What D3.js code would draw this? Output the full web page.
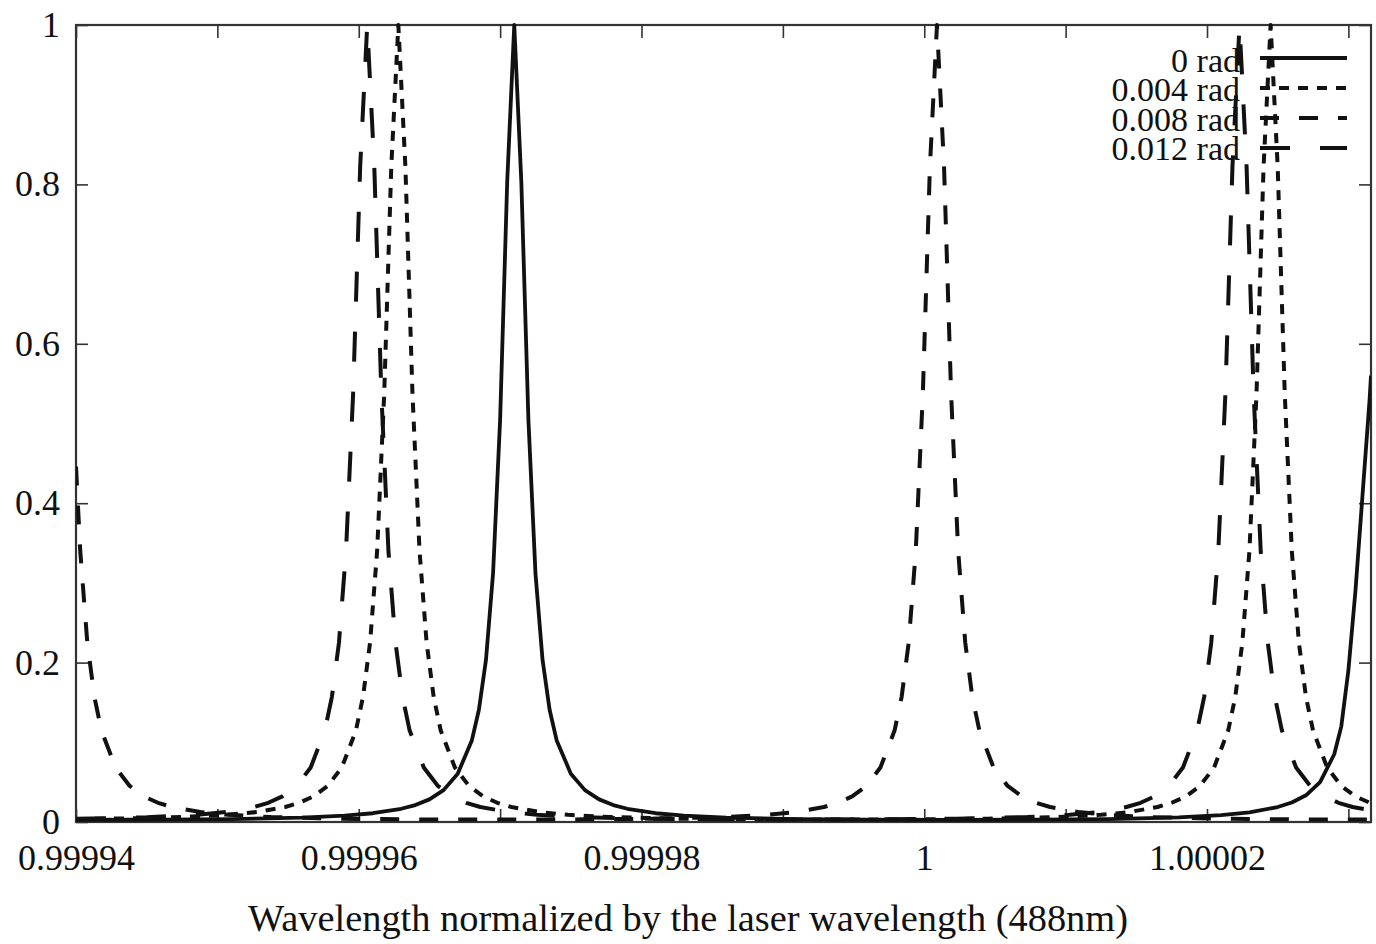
<!DOCTYPE html>
<html><head><meta charset="utf-8">
<script src="https://cdn.jsdelivr.net/npm/d3@7"></script>
<style>html,body{margin:0;padding:0;background:#fff;} svg{display:block;background:#fff;}</style>
</head><body>
<svg id="chart" width="1376" height="944"></svg>
<script>
// ---- data ----
const xTickValues = [0.99994, 0.99995, 0.99996, 0.99997, 0.99998, 0.99999, 1, 1.00001, 1.00002, 1.00003];
const xTickLabels = ["0.99994", "", "0.99996", "", "0.99998", "", "1", "", "1.00002", ""];
const yTickValues = [0, 0.2, 0.4, 0.6, 0.8, 1];
const yTickLabels = ["0", "0.2", "0.4", "0.6", "0.8", "1"];
const seriesNames = ["0 rad", "0.004 rad", "0.008 rad", "0.012 rad"];
const xTitle = "Wavelength normalized by the laser wavelength (488nm)";

// [normalized wavelength, transmission]
const rad0 = [
[0.99994,0.0027],[0.999943,0.0028],[0.999946,0.0029],[0.999951,0.0036],[0.999956,0.0055],
[0.999959,0.0080],[0.999961,0.0110],[0.999963,0.0166],[0.999964,0.0212],[0.999965,0.0284],
[0.999966,0.0400],[0.999967,0.0606],[0.999968,0.1024],[0.9999685,0.1408],[0.999969,0.2035],
[0.9999695,0.312],[0.99997,0.505],[0.9999705,0.803],[0.999971,1],[0.9999715,0.803],
[0.999972,0.505],[0.9999725,0.312],[0.999973,0.2035],[0.9999735,0.1408],[0.999974,0.1024],
[0.999975,0.0606],[0.999976,0.0400],[0.999977,0.0284],[0.999978,0.0212],[0.999979,0.0166],
[0.999981,0.0110],[0.999983,0.0080],[0.999986,0.0055],[0.999991,0.0036],[0.999996,0.0029],
[1.000002,0.0027],[1.000008,0.0029],[1.000013,0.0037],[1.000018,0.0058],[1.000021,0.0087],
[1.000023,0.0121],[1.000025,0.0188],[1.000026,0.0245],[1.000027,0.0335],[1.000028,0.050],
[1.000029,0.085],[1.0000295,0.12],[1.00003,0.19],[1.0000305,0.29],[1.000031,0.41],
[1.0000315,0.53],[1.0000316,0.56]
];
const rad004 = [
[0.99994,0.0036],[0.999945,0.0048],[0.99995,0.0081],[0.9999528,0.0125],[0.9999548,0.0188],
[0.9999558,0.0241],[0.9999568,0.0321],[0.9999578,0.0452],[0.9999588,0.0684],[0.9999598,0.1147],
[0.9999603,0.157],[0.9999608,0.225],[0.9999613,0.340],[0.9999618,0.537],[0.9999623,0.822],
[0.9999628,1],[0.9999633,0.822],[0.9999638,0.537],[0.9999643,0.340],[0.9999648,0.225],
[0.9999653,0.157],[0.9999658,0.1147],[0.9999668,0.0684],[0.9999678,0.0452],[0.9999688,0.0321],
[0.9999698,0.0241],[0.9999708,0.0188],[0.9999728,0.0125],[0.9999748,0.0090],[0.9999778,0.0062],
[0.9999828,0.0041],[0.9999878,0.0033],[0.9999936,0.0030],[0.9999995,0.0033],[1.0000045,0.0041],
[1.0000095,0.0062],[1.0000125,0.0090],[1.0000145,0.0125],[1.0000165,0.0188],[1.0000175,0.0241],
[1.0000185,0.0321],[1.0000195,0.0452],[1.0000205,0.0684],[1.0000215,0.1147],[1.000022,0.157],
[1.0000225,0.225],[1.000023,0.340],[1.0000235,0.537],[1.000024,0.822],[1.0000245,1],
[1.000025,0.822],[1.0000255,0.537],[1.000026,0.340],[1.0000265,0.225],[1.000027,0.157],
[1.0000275,0.1147],[1.0000285,0.0684],[1.0000295,0.0452],[1.0000305,0.0321],[1.0000316,0.0235]
];
const rad008 = [
[0.99994,0.446],[0.9999403,0.340],[0.9999408,0.225],[0.9999413,0.157],[0.9999418,0.1147],
[0.9999428,0.0684],[0.9999438,0.0452],[0.9999448,0.0321],[0.9999458,0.0241],[0.9999468,0.0188],
[0.9999488,0.0125],[0.9999508,0.0090],[0.9999538,0.0062],[0.9999588,0.0041],[0.9999638,0.0033],
[0.9999699,0.0030],[0.9999759,0.0033],[0.9999809,0.0041],[0.9999859,0.0062],[0.9999889,0.0090],
[0.9999909,0.0125],[0.9999929,0.0188],[0.9999939,0.0241],[0.9999949,0.0321],[0.9999959,0.0452],
[0.9999969,0.0684],[0.9999979,0.1147],[0.9999984,0.157],[0.9999989,0.225],[0.9999994,0.340],
[0.9999999,0.537],[1.0000004,0.822],[1.0000009,1],[1.0000014,0.822],[1.0000019,0.537],
[1.0000024,0.340],[1.0000029,0.225],[1.0000034,0.157],[1.0000039,0.1147],[1.0000049,0.0684],
[1.0000059,0.0452],[1.0000069,0.0321],[1.0000079,0.0241],[1.0000089,0.0188],[1.0000109,0.0125],
[1.0000129,0.0090],[1.0000159,0.0062],[1.0000209,0.0041],[1.0000259,0.0033],[1.0000316,0.0030]
];
const rad012 = [
[0.99994,0.0040],[0.999945,0.0059],[0.9999486,0.0090],[0.9999506,0.0125],[0.9999526,0.0188],
[0.9999536,0.0241],[0.9999546,0.0321],[0.9999556,0.0452],[0.9999566,0.0684],[0.9999576,0.1147],
[0.9999581,0.157],[0.9999586,0.225],[0.9999591,0.340],[0.9999596,0.537],[0.9999601,0.822],
[0.9999606,1],[0.9999611,0.822],[0.9999616,0.537],[0.9999621,0.340],[0.9999626,0.225],
[0.9999631,0.157],[0.9999636,0.1147],[0.9999646,0.0684],[0.9999656,0.0452],[0.9999666,0.0321],
[0.9999676,0.0241],[0.9999686,0.0188],[0.9999706,0.0125],[0.9999726,0.0090],[0.9999756,0.0062],
[0.9999806,0.0041],[0.9999856,0.0033],[0.9999914,0.0030],[0.9999973,0.0033],[1.0000023,0.0041],
[1.0000073,0.0062],[1.0000103,0.0090],[1.0000123,0.0125],[1.0000143,0.0188],[1.0000153,0.0241],
[1.0000163,0.0321],[1.0000173,0.0452],[1.0000183,0.0684],[1.0000193,0.1147],[1.0000198,0.157],
[1.0000203,0.225],[1.0000208,0.340],[1.0000213,0.537],[1.0000218,0.822],[1.0000223,1],
[1.0000228,0.822],[1.0000233,0.537],[1.0000238,0.340],[1.0000243,0.225],[1.0000248,0.157],
[1.0000253,0.1147],[1.0000263,0.0684],[1.0000273,0.0452],[1.0000283,0.0321],[1.0000293,0.0241],
[1.0000303,0.0188],[1.0000316,0.0145]
];

// ---- drawing ----
const L = 76, R = 1371, T = 25, B = 822;
const FONT = "'Liberation Serif','Times New Roman',Times,serif";
const INK = "#111";

const svg = d3.select("#chart");
const x = d3.scaleLinear().domain([0.99994, 1.0000316]).range([L, R]);
const y = d3.scaleLinear().domain([0, 1]).range([B, T]);

svg.append("defs").append("clipPath").attr("id", "plotclip")
  .append("rect").attr("x", L).attr("y", T - 2).attr("width", R - L).attr("height", B - T + 4);

// frame
svg.append("rect").attr("x", L).attr("y", T).attr("width", R - L).attr("height", B - T)
  .attr("fill", "none").attr("stroke", "#333").attr("stroke-width", 2.2);

function styleAxis(g) {
  g.select(".domain").remove();
  g.selectAll(".tick line").attr("stroke", "#333").attr("stroke-width", 1.6);
  g.selectAll(".tick text").attr("fill", INK).style("font-family", FONT).style("font-size", "36px");
}

svg.append("g").attr("transform", `translate(0,${B})`)
  .call(d3.axisBottom(x).tickValues(xTickValues).tickSize(-13).tickPadding(22)
    .tickFormat((d, i) => xTickLabels[i]))
  .call(styleAxis);
svg.append("g").attr("transform", `translate(0,${T})`)
  .call(d3.axisTop(x).tickValues(xTickValues).tickSize(-13).tickFormat(""))
  .call(styleAxis);
svg.append("g").attr("transform", `translate(${L},0)`)
  .call(d3.axisLeft(y).tickValues(yTickValues).tickSize(-12).tickPadding(16)
    .tickFormat((d, i) => yTickLabels[i]))
  .call(styleAxis);
svg.append("g").attr("transform", `translate(${R},0)`)
  .call(d3.axisRight(y).tickValues(yTickValues).tickSize(-12).tickFormat(""))
  .call(styleAxis);

// curves
const series = [
  { name: seriesNames[0], data: rad0,   dash: null,    width: 3.8 },
  { name: seriesNames[1], data: rad004, dash: "10,9",  width: 4 },
  { name: seriesNames[2], data: rad008, dash: "19,20", width: 4 },
  { name: seriesNames[3], data: rad012, dash: "30,30", width: 4 }
];
const line = d3.line().x(d => x(d[0])).y(d => y(d[1])).curve(d3.curveLinear);
const plot = svg.append("g").attr("clip-path", "url(#plotclip)");
series.forEach(s => {
  plot.append("path").datum(s.data).attr("d", line)
    .attr("fill", "none").attr("stroke", INK).attr("stroke-width", s.width)
    .attr("stroke-linejoin", "round")
    .attr("stroke-dasharray", s.dash);
});

// legend
const legY = [58, 88, 118, 148];
const legBase = [72, 101, 131, 160];
series.forEach((s, i) => {
  svg.append("text").attr("x", 1240).attr("y", legBase[i]).attr("text-anchor", "end")
    .attr("fill", INK).style("font-family", FONT).style("font-size", "34px").text(s.name);
  svg.append("line").attr("x1", 1260).attr("x2", 1347).attr("y1", legY[i]).attr("y2", legY[i])
    .attr("stroke", INK).attr("stroke-width", s.width).attr("stroke-dasharray", s.dash);
});

// axis title
svg.append("text").attr("x", 688).attr("y", 931).attr("text-anchor", "middle")
  .attr("textLength", 880).attr("lengthAdjust", "spacingAndGlyphs")
  .attr("fill", INK).style("font-family", FONT).style("font-size", "38px").text(xTitle);
</script>
</body></html>
